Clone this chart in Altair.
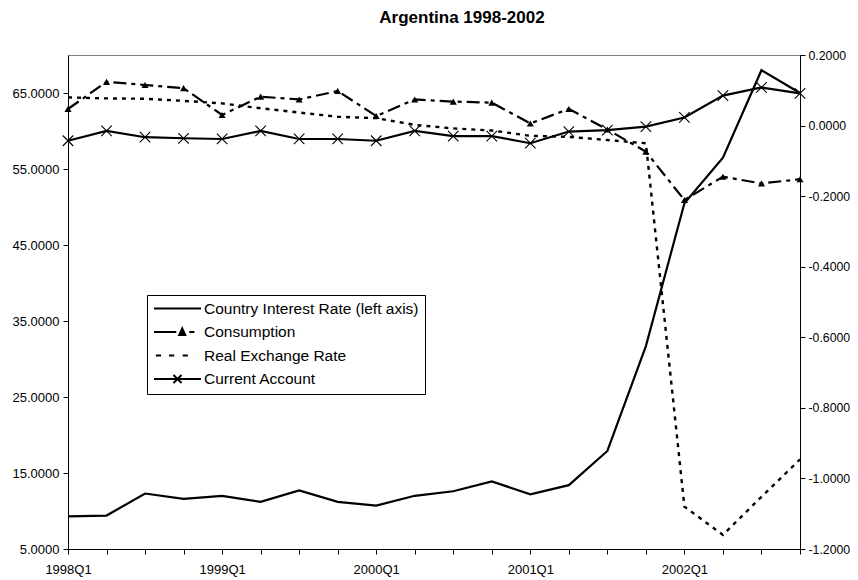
import altair as alt
import pandas as pd

# ---------------- data ----------------
quarters = ["1998Q1", "1998Q2", "1998Q3", "1998Q4",
            "1999Q1", "1999Q2", "1999Q3", "1999Q4",
            "2000Q1", "2000Q2", "2000Q3", "2000Q4",
            "2001Q1", "2001Q2", "2001Q3", "2001Q4",
            "2002Q1", "2002Q2", "2002Q3", "2002Q4"]
interest_rate = [9.3, 9.4, 12.3, 11.6, 12.0, 11.2, 12.7, 11.2, 10.7, 12.0,
                 12.6, 13.9, 12.2, 13.4, 17.9, 31.7, 50.5, 56.5, 68.0, 65.0]
consumption = [0.047, 0.124, 0.115, 0.106, 0.030, 0.082, 0.074, 0.098, 0.027, 0.074,
               0.068, 0.065, 0.006, 0.047, -0.011, -0.074, -0.211, -0.145, -0.164, -0.152]
real_exchange_rate = [0.080, 0.077, 0.076, 0.070, 0.063, 0.049, 0.037, 0.025, 0.021, 0.002,
                      -0.008, -0.014, -0.029, -0.032, -0.041, -0.050, -1.080, -1.160, -1.052, -0.946]
current_account = [-0.043, -0.015, -0.033, -0.036, -0.038, -0.015, -0.038, -0.038, -0.043, -0.015,
                   -0.030, -0.030, -0.050, -0.017, -0.013, -0.003, 0.023, 0.085, 0.108, 0.091]
series_names = ["Country Interest Rate (left axis)", "Consumption",
                "Real Exchange Rate", "Current Account"]
left_ticks = [5, 15, 25, 35, 45, 55, 65]
right_ticks = [-1.2, -1.0, -0.8, -0.6, -0.4, -0.2, 0.0, 0.2]

df = pd.DataFrame({
    "quarter": quarters,
    "interest": interest_rate,
    "consumption": consumption,
    "rer": real_exchange_rate,
    "ca": current_account,
})

FONT = "Liberation Sans"

# legend symbols (line + marker drawn as custom paths)
legend_paths = [
    "M-1,0H1",
    "M-1,0H-0.05M0.5,0H0.72M0.07,0.13L0.2,-0.15L0.33,0.13ZM0.13,0.08L0.2,-0.05L0.27,0.08Z",
    "M-0.92,0H-0.70M-0.36,0H-0.14M0.22,0H0.44",
    "M-1,0H1M-0.17,-0.17L0.17,0.17M-0.17,0.17L0.17,-0.17",
]
x_mark_path = "M-1,-1L1,1M-1,1L1,-1"

x_enc = alt.X(
    "quarter:O",
    scale=alt.Scale(type="point", padding=0, domain=quarters),
    axis=alt.Axis(
        title=None, labelAngle=0, labelOverlap=False, tickSize=5, labelPadding=9,
        labelExpr="slice(datum.label, 4) == 'Q1' ? datum.label : ''",
    ),
)

left_axis = alt.Axis(orient="left", values=left_ticks, format=".4f", title=None,
                     tickSize=5, labelPadding=4, grid=False)
right_axis = alt.Axis(orient="right", values=right_ticks, format=".4f", title=None,
                      tickSize=5, labelPadding=3, grid=False, labelFontSize=12.3,
                      labelExpr="replace(datum.label, '\u2212', '-')")
right_scale = alt.Scale(domain=[-1.2, 0.2], nice=False, zero=False)


def ry(field):
    return alt.Y(f"{field}:Q", scale=right_scale, axis=right_axis)


base = alt.Chart(df)

left = base.mark_line(color="black", strokeWidth=2.2).encode(
    x=x_enc,
    y=alt.Y("interest:Q", scale=alt.Scale(domain=[5, 70], nice=False, zero=False), axis=left_axis),
)

cons_line = base.mark_line(color="black", strokeWidth=2.2, strokeDash=[13, 5, 4, 5]).encode(
    x=x_enc, y=ry("consumption"))
cons_pts = base.mark_point(shape="triangle-up", filled=True, color="black", size=50, opacity=1).encode(
    x=x_enc, y=ry("consumption"))
rer_line = base.mark_line(color="black", strokeWidth=2.4, strokeDash=[4, 5]).encode(
    x=x_enc, y=ry("rer"))
ca_line = base.mark_line(color="black", strokeWidth=2.2).encode(
    x=x_enc, y=ry("ca"))
ca_pts = base.mark_point(shape=x_mark_path, filled=False, color="black", size=110,
                         strokeWidth=1.1, opacity=1).encode(
    x=x_enc, y=ry("ca"))

legend_layer = base.transform_calculate(series="'Consumption'").transform_filter("false").mark_point(
    filled=False, color="black", opacity=1, strokeWidth=2
).encode(
    x=x_enc,
    y=ry("ca"),
    shape=alt.Shape(
        "series:N",
        scale=alt.Scale(domain=series_names, range=legend_paths),
        legend=alt.Legend(
            title=None, orient="none", legendX=79, legendY=240,
            strokeColor="black", fillColor="white", padding=6,
            rowPadding=7.5, clipHeight=15, symbolSize=2209,
            symbolStrokeColor="black", symbolFillColor="black", symbolStrokeWidth=2,
            symbolOpacity=1, labelFont=FONT, labelFontSize=15.5, labelColor="black",
            labelLimit=400, labelOffset=2,
        ),
    ),
)

right = alt.layer(cons_line, cons_pts, rer_line, ca_line, ca_pts, legend_layer)

chart = alt.layer(left, right).resolve_scale(y="independent").properties(
    width=732,
    height=494,
    title=alt.TitleParams("Argentina 1998-2002", font=FONT, fontSize=17, fontWeight="bold",
                          color="black", anchor="middle", frame="group", dx=28, offset=22),
    padding={"left": 60, "top": 47, "right": 50, "bottom": 28},
    autosize=alt.AutoSizeParams(type="none"),
).configure_view(
    stroke="#808080", strokeWidth=1
).configure_axis(
    labelFont=FONT, labelFontSize=13, labelColor="black",
    domainColor="black", tickColor="black", domainWidth=1, tickWidth=1,
)

chart.save("out.html", embed_options={"renderer": "svg", "actions": False})
